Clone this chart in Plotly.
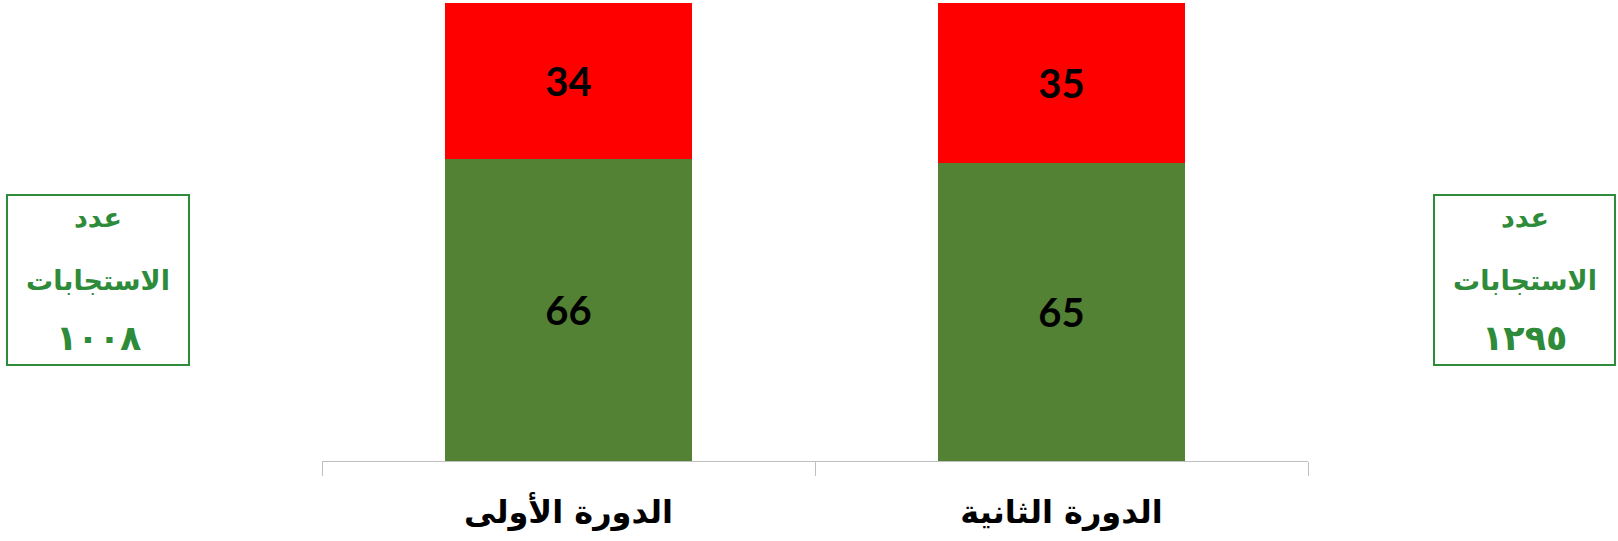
import plotly.graph_objects as go

categories = ["الدورة الأولى", "الدورة الثانية"]
green_vals = [66, 65]
red_vals = [34, 35]
box_left = ["عدد", "الاستجابات", "١٠٠٨"]
box_right = ["عدد", "الاستجابات", "١٢٩٥"]

GREEN = "#548235"
RED = "#FF0000"
BOX_GREEN = "#2E8B3A"

W, H = 1618, 541
ML, MR, MT, MB = 322, 310, 3, 80
PW, PH = W - ML - MR, H - MT - MB


def px_x(x):
    return (x - ML) / PW


def px_y(y):
    return (H - MB - y) / PH


fig = go.Figure()
for vals, col in [(green_vals, GREEN), (red_vals, RED)]:
    fig.add_trace(go.Bar(x=categories, y=vals, marker=dict(color=col, line=dict(width=0)),
                         text=vals, texttemplate="%{text}", textposition="inside",
                         insidetextanchor="middle",
                         textfont=dict(family="Lato", size=40, color="black", weight="bold"),
                         showlegend=False, hoverinfo="skip"))

boxes = [((7, 189), box_left), ((1434, 1615), box_right)]
line_y = [217, 280, 338]
line_size = [27, 27, 35]
for (bx0, bx1), lines in boxes:
    fig.add_shape(type="rect", xref="paper", yref="paper",
                  x0=px_x(bx0), x1=px_x(bx1), y0=px_y(365), y1=px_y(195),
                  line=dict(color=BOX_GREEN, width=2), fillcolor="rgba(0,0,0,0)")
    cx = px_x((bx0 + bx1) / 2)
    for txt, ly, fs in zip(lines, line_y, line_size):
        fig.add_annotation(x=cx, y=px_y(ly), xref="paper", yref="paper",
                           xanchor="center", yanchor="middle", text=txt, showarrow=False,
                           font=dict(family="DejaVu Sans", size=fs, color=BOX_GREEN, weight="bold"))

fig.update_layout(
    barmode="stack", bargap=0.5,
    width=W, height=H,
    margin=dict(l=ML, r=MR, t=MT, b=MB),
    plot_bgcolor="white", paper_bgcolor="white",
    xaxis=dict(showline=True, linecolor="#BFBFBF", linewidth=1, ticks="outside", tickson="boundaries",
               ticklen=14, tickcolor="#BFBFBF", showgrid=False,
               tickfont=dict(family="DejaVu Sans", size=32, color="black", weight="bold"),
               ticklabelstandoff=23),
    yaxis=dict(range=[0, 100], visible=False, showgrid=False),
)

fig.write_html("out.html", config={"displayModeBar": False},
               post_script="document.body.style.margin='0';")
